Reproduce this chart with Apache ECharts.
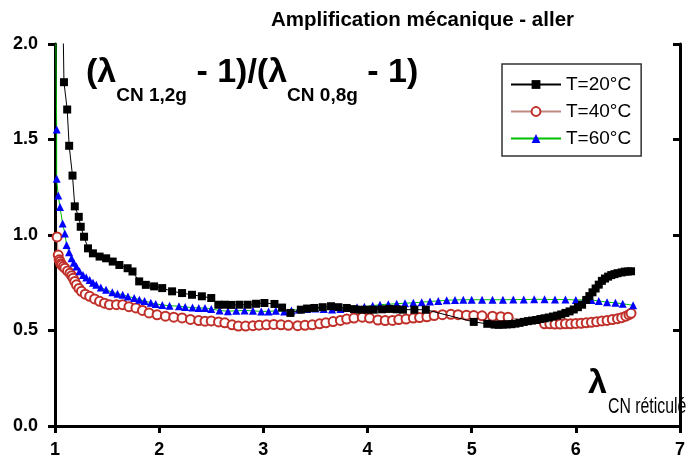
<!DOCTYPE html>
<html>
<head>
<meta charset="utf-8">
<script src="https://cdn.jsdelivr.net/npm/echarts@6/dist/echarts.min.js"></script>
<style>
  html, body { margin: 0; padding: 0; background: #fff; }
  #chart { width: 688px; height: 459px; }
</style>
</head>
<body>
<div id="chart"></div>
<script>
// T=20°C
const x20 = [1.075, 1.086, 1.117, 1.136, 1.168, 1.19, 1.228, 1.247, 1.279, 1.317, 1.364, 1.428, 1.491, 1.554, 1.618, 1.697, 1.744, 1.808, 1.872, 1.951, 2.029, 2.124, 2.22, 2.315, 2.41, 2.5, 2.568, 2.63, 2.69, 2.77, 2.85, 2.93, 3.01, 3.107, 3.18, 3.26, 3.36, 3.42, 3.49, 3.57, 3.65, 3.72, 3.8, 3.87, 3.93, 4.0, 4.06, 4.14, 4.21, 4.28, 4.34, 4.45, 4.56, 5.02, 5.15, 5.22, 5.26, 5.3, 5.34, 5.38, 5.42, 5.46, 5.5, 5.54, 5.58, 5.62, 5.66, 5.7, 5.74, 5.78, 5.82, 5.86, 5.9, 5.94, 5.98, 6.02, 6.06, 6.1, 6.13, 6.16, 6.19, 6.22, 6.25, 6.28, 6.31, 6.34, 6.37, 6.4, 6.44, 6.47, 6.5, 6.53];
const y20 = [2.2, 1.8, 1.657, 1.467, 1.311, 1.15, 1.095, 1.043, 0.991, 0.93, 0.904, 0.887, 0.878, 0.861, 0.843, 0.826, 0.809, 0.757, 0.739, 0.731, 0.722, 0.705, 0.696, 0.687, 0.679, 0.67, 0.635, 0.635, 0.634, 0.635, 0.635, 0.64, 0.644, 0.639, 0.62, 0.592, 0.609, 0.615, 0.618, 0.622, 0.627, 0.622, 0.618, 0.612, 0.609, 0.609, 0.609, 0.611, 0.613, 0.611, 0.609, 0.609, 0.609, 0.545, 0.535, 0.531, 0.53, 0.531, 0.532, 0.533, 0.536, 0.54, 0.545, 0.549, 0.552, 0.555, 0.56, 0.564, 0.568, 0.573, 0.578, 0.584, 0.592, 0.6, 0.61, 0.622, 0.635, 0.66, 0.68, 0.7, 0.72, 0.74, 0.76, 0.772, 0.782, 0.79, 0.795, 0.8, 0.804, 0.808, 0.809, 0.81];

// T=40°C
const x40 = [1.02, 1.031, 1.04, 1.048, 1.056, 1.064, 1.08, 1.095, 1.12, 1.143, 1.16, 1.174, 1.19, 1.206, 1.23, 1.254, 1.29, 1.333, 1.38, 1.428, 1.475, 1.523, 1.59, 1.65, 1.71, 1.777, 1.84, 1.903, 1.98, 2.06, 2.14, 2.22, 2.3, 2.38, 2.44, 2.5, 2.57, 2.63, 2.7, 2.76, 2.83, 2.9, 2.96, 3.03, 3.1, 3.17, 3.24, 3.33, 3.4, 3.47, 3.54, 3.6, 3.67, 3.74, 3.8, 3.87, 3.95, 4.02, 4.1, 4.17, 4.24, 4.3, 4.37, 4.44, 4.5, 4.57, 4.64, 4.72, 4.8, 4.87, 4.95, 5.02, 5.1, 5.2, 5.28, 5.35, 5.7, 5.75, 5.8, 5.85, 5.9, 5.95, 6.0, 6.05, 6.1, 6.15, 6.2, 6.25, 6.3, 6.35, 6.4, 6.44, 6.48, 6.51, 6.53];
const y40 = [0.99, 0.895, 0.87, 0.861, 0.85, 0.843, 0.835, 0.826, 0.812, 0.8, 0.787, 0.774, 0.757, 0.739, 0.72, 0.705, 0.69, 0.679, 0.665, 0.653, 0.643, 0.635, 0.635, 0.635, 0.625, 0.618, 0.605, 0.592, 0.582, 0.575, 0.57, 0.566, 0.558, 0.552, 0.549, 0.55, 0.545, 0.54, 0.53, 0.523, 0.523, 0.525, 0.528, 0.53, 0.532, 0.53, 0.527, 0.525, 0.527, 0.53, 0.535, 0.54, 0.547, 0.553, 0.56, 0.565, 0.57, 0.565, 0.555, 0.552, 0.553, 0.557, 0.56, 0.565, 0.568, 0.572, 0.578, 0.583, 0.585, 0.583, 0.58, 0.578, 0.577, 0.575, 0.572, 0.57, 0.535, 0.535, 0.534, 0.534, 0.535, 0.535, 0.537, 0.538, 0.54, 0.543, 0.546, 0.55, 0.553, 0.557, 0.562, 0.567, 0.575, 0.583, 0.59];

// T=60°C
const x60 = [1.004, 1.016, 1.016, 1.031, 1.048, 1.073, 1.095, 1.111, 1.135, 1.159, 1.18, 1.206, 1.235, 1.269, 1.3, 1.333, 1.365, 1.396, 1.44, 1.49, 1.55, 1.6, 1.65, 1.7, 1.76, 1.81, 1.86, 1.92, 1.967, 2.03, 2.1, 2.19, 2.25, 2.32, 2.38, 2.44, 2.5, 2.58, 2.66, 2.74, 2.82, 2.9, 2.98, 3.05, 3.12, 3.2, 3.27, 3.34, 3.42, 3.5, 3.58, 3.66, 3.74, 3.82, 3.9, 3.97, 4.05, 4.12, 4.2, 4.28, 4.36, 4.44, 4.52, 4.6, 4.68, 4.76, 4.84, 4.92, 5.0, 5.1, 5.2, 5.3, 5.4, 5.5, 5.6, 5.7, 5.8, 5.9, 6.0, 6.08, 6.15, 6.22, 6.3, 6.38, 6.45, 6.55];
const y60 = [2.3, 1.553, 1.294, 1.207, 1.146, 1.06, 1.008, 0.947, 0.91, 0.878, 0.855, 0.835, 0.81, 0.791, 0.778, 0.765, 0.75, 0.739, 0.725, 0.713, 0.7, 0.693, 0.687, 0.678, 0.67, 0.661, 0.655, 0.645, 0.639, 0.634, 0.63, 0.627, 0.623, 0.62, 0.618, 0.618, 0.612, 0.605, 0.601, 0.603, 0.605, 0.603, 0.6, 0.6, 0.603, 0.6, 0.605, 0.61, 0.613, 0.615, 0.613, 0.61, 0.613, 0.618, 0.622, 0.625, 0.63, 0.635, 0.638, 0.64, 0.643, 0.645, 0.648, 0.652, 0.655, 0.658, 0.66, 0.661, 0.661, 0.661, 0.661, 0.661, 0.662, 0.662, 0.663, 0.663, 0.662, 0.662, 0.66, 0.66, 0.66, 0.655, 0.648, 0.645, 0.64, 0.632];

const seriesNames = ['T=20°C', 'T=40°C', 'T=60°C'];

const font = 'Liberation Sans, Arial, sans-serif';

function pairs(xs, ys) {
    return xs.map((x, i) => [x, ys[i]]);
}

const chart = echarts.init(document.getElementById('chart'), null, { renderer: 'canvas' });

const axisLine = { show: true, lineStyle: { color: '#000', width: 3 } };

const option = {
    animation: false,
    backgroundColor: '#fff',
    title: {
        text: 'Amplification mécanique - aller',
        left: 266,
        top: 5,
        textStyle: { fontFamily: font, fontSize: 20.5, fontWeight: 'bold', color: '#000' }
    },
    grid: { left: 55, right: 2, top: 44, bottom: 30 },
    legend: {
        orient: 'vertical',
        left: 502,
        top: 64,
        padding: [11, 10, 8, 8],
        itemGap: 8,
        itemWidth: 50,
        itemHeight: 11,
        borderColor: '#333',
        borderWidth: 1.5,
        data: seriesNames,
        textStyle: { fontFamily: font, fontSize: 19, color: '#000' }
    },
    xAxis: [
        {
            type: 'value', min: 1, max: 7, interval: 1, position: 'bottom',
            axisLine: axisLine,
            axisTick: { show: true, inside: false, length: 7, lineStyle: { color: '#000', width: 3 } },
            axisLabel: { fontFamily: font, fontSize: 18, fontWeight: 'bold', color: '#000', margin: 15 },
            splitLine: { show: false }
        },
        {
            type: 'value', min: 1, max: 7, interval: 1, position: 'top',
            axisLine: axisLine,
            axisTick: { show: true, inside: true, length: 7, lineStyle: { color: '#000', width: 3 } },
            axisLabel: { show: false },
            splitLine: { show: false }
        }
    ],
    yAxis: [
        {
            type: 'value', min: 0, max: 2, interval: 0.5, position: 'left',
            axisLine: axisLine,
            axisTick: { show: true, inside: false, length: 7, lineStyle: { color: '#000', width: 3 } },
            axisLabel: {
                fontFamily: font, fontSize: 18, fontWeight: 'bold', color: '#000', margin: 17,
                formatter: v => v.toFixed(1)
            },
            splitLine: { show: false }
        },
        {
            type: 'value', min: 0, max: 2, interval: 0.5, position: 'right',
            axisLine: axisLine,
            axisTick: { show: true, inside: true, length: 7, lineStyle: { color: '#000', width: 3 } },
            axisLabel: { show: false },
            splitLine: { show: false }
        }
    ],
    graphic: [
        {
            type: 'text',
            left: 86,
            top: 56,
            style: {
                text: '{a|(λ}{s|CN 1,2g}{a| - 1)/(λ}{s|CN 0,8g}{a| - 1)}',
                rich: {
                    a: { fontFamily: font, fontSize: 34, fontWeight: 'bold', fill: '#000', verticalAlign: 'top' },
                    s: { fontFamily: font, fontSize: 19, fontWeight: 'bold', fill: '#000', verticalAlign: 'top', padding: [30, 0, 0, 0] }
                }
            }
        },
        {
            type: 'text',
            x: 588,
            y: 367,
            style: {
                text: 'λ',
                fontFamily: font, fontSize: 34, fontWeight: 'bold', fill: '#000'
            }
        },
        {
            type: 'text',
            x: 608,
            y: 396,
            scaleX: 0.72,
            style: {
                text: 'CN réticulé',
                fontFamily: font, fontSize: 22, fill: '#000'
            }
        }
    ],
    series: [
        {
            name: seriesNames[0],
            type: 'line',
            data: pairs(x20, y20),
            symbol: 'rect',
            symbolSize: 8,
            itemStyle: { color: '#000' },
            lineStyle: { color: '#000', width: 1 },
            z: 4
        },
        {
            name: seriesNames[1],
            type: 'line',
            data: pairs(x40, y40),
            symbol: 'emptyCircle',
            symbolSize: 9,
            itemStyle: { color: '#c0302a', borderWidth: 1 },
            lineStyle: { color: '#c08a80', width: 1 },
            z: 2
        },
        {
            name: seriesNames[2],
            type: 'line',
            data: pairs(x60, y60),
            symbol: 'triangle',
            symbolSize: 8,
            itemStyle: { color: '#0000ff' },
            lineStyle: { color: '#00c000', width: 1 },
            z: 3
        }
    ]
};

chart.setOption(option);
</script>
</body>
</html>
